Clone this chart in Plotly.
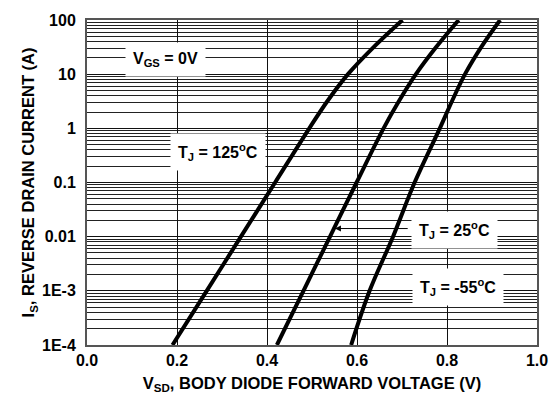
import plotly.graph_objects as go

# Data (V in volts, I in amps)
i_levels = [1e-4, 1e-3, 1e-2, 0.1, 1.0, 3.16, 10.0, 31.6, 100.0]
v_125 = [0.190, 0.266, 0.342, 0.418, 0.494, 0.534, 0.580, 0.637, 0.701]
v_25 = [0.422, 0.481, 0.540, 0.599, 0.659, 0.693, 0.731, 0.776, 0.826]
v_m55 = [0.587, 0.628, 0.680, 0.728, 0.784, 0.811, 0.840, 0.876, 0.918]

x_ticks = [0.0, 0.2, 0.4, 0.6, 0.8, 1.0]
x_ticktext = ["0.0", "0.2", "0.4", "0.6", "0.8", "1.0"]
y_ticks = [1e-4, 1e-3, 1e-2, 1e-1, 1, 10, 100]
y_ticktext = ["1E-4", "1E-3", "0.01", "0.1", "1", "10", "100"]

FONT = "Liberation Sans, Arial, sans-serif"

fig = go.Figure()
for v in [v_125, v_25, v_m55]:
    fig.add_trace(go.Scatter(x=v, y=i_levels, mode="lines",
                             line=dict(color="black", width=4, shape="spline", smoothing=1.0),
                             showlegend=False, hoverinfo="skip"))

fig.update_layout(
    width=560, height=402,
    margin=dict(l=87, r=19, t=15, b=54),
    paper_bgcolor="white", plot_bgcolor="white",
    font=dict(family=FONT, color="black"),
    xaxis=dict(range=[0, 1], tickvals=x_ticks, ticktext=x_ticktext,
               showgrid=True, gridcolor="#111", gridwidth=1,
               showline=True, linecolor="#555", linewidth=2, mirror=True,
               ticks="", zeroline=False,
               tickfont=dict(size=16, family=FONT, weight="bold"),
               title=dict(text="<b>V<sub>SD</sub>, BODY DIODE FORWARD VOLTAGE (V)</b>",
                          font=dict(size=16.5, family=FONT), standoff=9)),
    yaxis=dict(type="log", range=[-4, 2], tickvals=y_ticks, ticktext=y_ticktext,
               showgrid=True, gridcolor="#111", gridwidth=1,
               minor=dict(dtick="D1", showgrid=True, gridcolor="#222", gridwidth=1, ticks=""),
               showline=True, linecolor="#555", linewidth=2, mirror=True,
               ticks="", zeroline=False, ticklabelstandoff=6,
               tickfont=dict(size=16, family=FONT, weight="bold"),
               title=dict(text="<b>I<sub>S</sub>, REVERSE DRAIN CURRENT (A)</b>",
                          font=dict(size=16.5, family=FONT), standoff=3)),
)

def label(text, x, logy):
    fig.add_annotation(text="<b>" + text + "</b>", x=x, y=logy, xref="x", yref="y",
                       showarrow=False, bgcolor="white", borderpad=7,
                       font=dict(size=16, family=FONT, color="black"))

label("V<sub>GS</sub> = 0V", 0.175, 1.28)
label("T<sub>J</sub> = 125<sup>o</sup>C", 0.291, -0.435)
label("T<sub>J</sub> = 25<sup>o</sup>C", 0.816, -1.877)
label("T<sub>J</sub> = -55<sup>o</sup>C", 0.824, -2.92)

# arrow from the 25 C label to its curve
fig.add_annotation(x=0.551, y=-1.85, ax=0.716, ay=-1.85,
                   xref="x", yref="y", axref="x", ayref="y",
                   text="", showarrow=True, arrowhead=2, arrowsize=1.2,
                   arrowwidth=1, arrowcolor="black")

fig.write_html("out.html")
